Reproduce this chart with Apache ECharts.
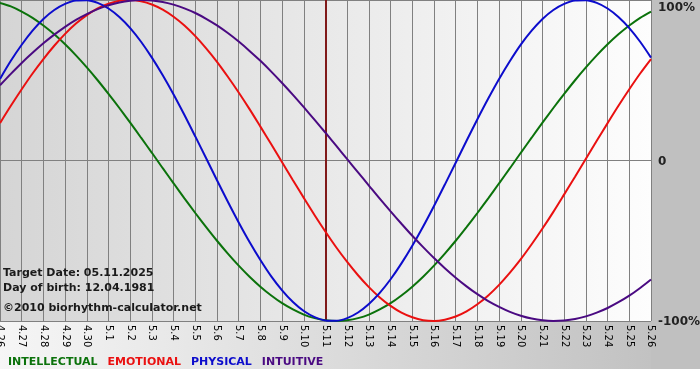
<!DOCTYPE html>
<html>
<head>
<meta charset="utf-8">
<script src="https://cdn.jsdelivr.net/npm/echarts@6/dist/echarts.min.js"></script>
<style>
html,body{margin:0;padding:0;background:#fff;}
#chart{width:700px;height:380px;
background:
 linear-gradient(#c0c0c0,#c0c0c0) 651px 0 / 49px 369px no-repeat,
 linear-gradient(to right,#f6f6f6,#c2c2c2) 0 321px / 651px 48px no-repeat,
 #ffffff;}
</style>
</head>
<body>
<div id="chart"></div>
<script>
// Day labels (x axis)
var dayLabels = ['4.26','4.27','4.28','4.29','4.30','5.1','5.2','5.3','5.4','5.5','5.6','5.7','5.8','5.9','5.10','5.11','5.12','5.13','5.14','5.15','5.16','5.17','5.18','5.19','5.20','5.21','5.22','5.23','5.24','5.25','5.26'];
var targetDay = '5.11';
var sampleStep = 0.5;
var intellectual = [0.982,0.960,0.928,0.889,0.841,0.786,0.724,0.655,0.580,0.500,0.415,0.327,0.236,0.142,0.048,-0.048,-0.142,-0.236,-0.327,-0.415,-0.500,-0.580,-0.655,-0.724,-0.786,-0.841,-0.889,-0.928,-0.960,-0.982,-0.995,-1.000,-0.995,-0.982,-0.960,-0.928,-0.889,-0.841,-0.786,-0.724,-0.655,-0.580,-0.500,-0.415,-0.327,-0.236,-0.142,-0.048,0.048,0.142,0.236,0.327,0.415,0.500,0.580,0.655,0.724,0.786,0.841,0.889,0.928];
var emotional = [0.233,0.341,0.444,0.542,0.632,0.715,0.789,0.853,0.906,0.948,0.977,0.995,1.000,0.992,0.972,0.940,0.896,0.841,0.775,0.699,0.615,0.522,0.424,0.320,0.211,0.101,-0.011,-0.123,-0.233,-0.341,-0.444,-0.542,-0.632,-0.715,-0.789,-0.853,-0.906,-0.948,-0.977,-0.995,-1.000,-0.992,-0.972,-0.940,-0.896,-0.841,-0.775,-0.699,-0.615,-0.522,-0.424,-0.320,-0.211,-0.101,0.011,0.123,0.233,0.341,0.444,0.542,0.632];
var physical = [0.508,0.621,0.721,0.809,0.882,0.938,0.976,0.997,0.999,0.982,0.947,0.894,0.825,0.740,0.641,0.531,0.411,0.283,0.150,0.014,-0.123,-0.257,-0.386,-0.508,-0.620,-0.722,-0.809,-0.882,-0.938,-0.976,-0.997,-0.999,-0.982,-0.947,-0.894,-0.825,-0.740,-0.641,-0.531,-0.411,-0.283,-0.150,-0.014,0.123,0.257,0.386,0.508,0.620,0.722,0.809,0.882,0.938,0.976,0.997,0.999,0.982,0.947,0.894,0.825,0.740,0.641];
var intuitive = [0.469,0.540,0.608,0.671,0.730,0.784,0.833,0.876,0.912,0.943,0.967,0.985,0.996,1.000,0.997,0.988,0.971,0.948,0.919,0.883,0.842,0.794,0.741,0.683,0.621,0.554,0.483,0.409,0.332,0.253,0.173,0.091,0.008,-0.074,-0.156,-0.238,-0.317,-0.394,-0.469,-0.540,-0.608,-0.671,-0.730,-0.784,-0.833,-0.876,-0.912,-0.943,-0.967,-0.985,-0.996,-1.000,-0.997,-0.988,-0.971,-0.948,-0.919,-0.883,-0.842,-0.794,-0.741];
var yTicks = {'1':'100%','0':'0','-1':'-100%'};
var seriesNames = ['INTELLECTUAL','EMOTIONAL','PHYSICAL','INTUITIVE'];
var seriesColors = ['#0b720b','#ea1010','#0c0ccc','#4a0a82'];
var infoLines = ['Target Date: 05.11.2025','Day of birth: 12.04.1981','\u00a92010 biorhythm-calculator.net'];

var allData = [intellectual, emotional, physical, intuitive];
function toPairs(arr){ return arr.map(function(v,i){ return [i*sampleStep,v]; }); }

var chart = echarts.init(document.getElementById('chart'), null, {renderer:'canvas'});
var series = seriesNames.map(function(n,i){
  var s = {
    name:n, type:'line', data:toPairs(allData[i]), smooth:0.3, showSymbol:false,
    lineStyle:{color:seriesColors[i], width:2}, itemStyle:{color:seriesColors[i]},
    emphasis:{disabled:true}, z:3
  };
  if(i===0){
    s.markLine = {silent:true, symbol:['none','none'], label:{show:false},
      lineStyle:{color:'#801a1a', width:2, type:'solid'},
      data:[{xAxis: dayLabels.indexOf(targetDay)}], z:2};
  }
  return s;
});

chart.setOption({
  animation:false,
  backgroundColor:'transparent',
  grid:{left:0, right:49, top:0, bottom:59, show:true, borderWidth:0, outerBoundsMode:'none', containLabel:false,
    backgroundColor:{type:'linear',x:0,y:0,x2:1,y2:0,colorStops:[{offset:0,color:'#d5d5d5'},{offset:1,color:'#fdfdfd'}]}},
  legend:{
    left:3, top:357, padding:0, itemGap:5, itemWidth:0, itemHeight:0, icon:'none', selectedMode:false,
    textStyle:{fontFamily:'DejaVu Sans', fontWeight:'bold', fontSize:11},
    data: seriesNames.map(function(n,i){ return {name:n, textStyle:{color:seriesColors[i]}}; })
  },
  xAxis:{
    type:'value', min:0, max:dayLabels.length-1, interval:1,
    axisLine:{show:true, lineStyle:{color:'#808080'}},
    axisTick:{show:true, length:4, lineStyle:{color:'#808080'}},
    splitLine:{show:true, lineStyle:{color:'#808080', width:1}},
    axisLabel:{rotate:-90, margin:4, fontFamily:'DejaVu Sans', fontSize:10, color:'#000',
      formatter:function(v){ return dayLabels[Math.round(v)]; }}
  },
  yAxis:{
    type:'value', position:'right', min:-1, max:1, interval:1,
    axisLine:{show:false}, axisTick:{show:false},
    splitLine:{show:true, lineStyle:{color:'#808080', width:1}},
    axisLabel:{margin:7, fontFamily:'DejaVu Sans', fontSize:12, fontWeight:'bold', color:'#222',
      formatter:function(v){ var t = yTicks[String(Math.round(v))]; return v>0.5 ? '{top|'+t+'}' : '{n|'+t+'}'; },
      rich:{top:{padding:[16,0,0,0], fontFamily:'DejaVu Sans', fontSize:12, fontWeight:'bold', color:'#222'},
            n:{padding:[2,0,0,0], fontFamily:'DejaVu Sans', fontSize:12, fontWeight:'bold', color:'#222'}}}
  },
  graphic: infoLines.map(function(t,i){
    return {type:'text', left:3, top:[268,283,303][i], z:10,
      style:{text:t, fontFamily:'DejaVu Sans', fontWeight:'bold', fontSize:11, fill:'#1a1a1a'}};
  }),
  series: series
});
</script>
</body>
</html>
